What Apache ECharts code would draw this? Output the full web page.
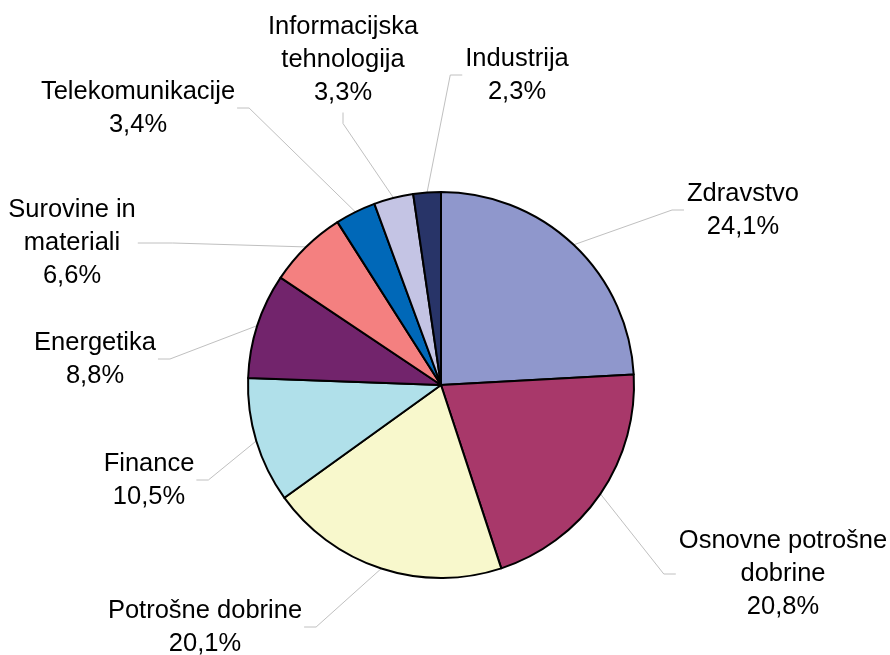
<!DOCTYPE html>
<html>
<head>
<meta charset="utf-8">
<script src="https://cdn.jsdelivr.net/npm/echarts@6/dist/echarts.min.js"></script>
<style>
html,body{margin:0;padding:0;background:#fff;}
#main{width:890px;height:655px;}
</style>
</head>
<body>
<div id="main"></div>
<script>
var categories = ['Zdravstvo', 'Osnovne potrošne\ndobrine', 'Potrošne dobrine', 'Finance', 'Energetika', 'Surovine in\nmateriali', 'Telekomunikacije', 'Informacijska\ntehnologija', 'Industrija'];
var shares = [24.1, 20.8, 20.1, 10.5, 8.8, 6.6, 3.4, 3.3, 2.3];
var colors = ['#8f97cc', '#a8386a', '#f8f8cc', '#b0e0ea', '#72246c', '#f48080', '#0068b8', '#c4c4e4', '#283468'];

// label placement (layout, not data)
var labelPos = [
  {x: 743, y: 210, side: 'left'},
  {x: 783, y: 574, side: 'left'},
  {x: 205, y: 627, side: 'right'},
  {x: 149, y: 480, side: 'right'},
  {x: 95, y: 359, side: 'right'},
  {x: 72, y: 243, side: 'right', len: 35},
  {x: 138, y: 108, side: 'right'},
  {x: 343, y: 60, side: 'bottom'},
  {x: 517, y: 75, side: 'left'}
];

var CX = 441, CY = 385, R = 193;
var total = shares.reduce(function (a, b) { return a + b; }, 0);

function anchorFor(i) {
  var before = 0;
  for (var k = 0; k < i; k++) before += shares[k];
  var mid = (before + shares[i] / 2) / total * Math.PI * 2;
  return [CX + R * Math.sin(mid), CY - R * Math.cos(mid)];
}

var chart = echarts.init(document.getElementById('main'));
chart.setOption({
  backgroundColor: '#ffffff',
  animation: false,
  series: [{
    type: 'pie',
    center: [CX, CY],
    radius: R,
    startAngle: 90,
    clockwise: true,
    avoidLabelOverlap: false,
    data: categories.map(function (c, i) {
      return { name: c, value: shares[i], itemStyle: { color: colors[i] } };
    }),
    itemStyle: { borderColor: '#000000', borderWidth: 2 },
    emphasis: { disabled: true },
    label: {
      show: true,
      position: 'outside',
      color: '#000000',
      fontFamily: '"Liberation Sans", Arial, sans-serif',
      fontSize: 25.5,
      lineHeight: 33,
      align: 'center',
      formatter: function (p) {
        return p.name + '\n' + p.value.toFixed(1).replace('.', ',') + '%';
      }
    },
    labelLine: {
      show: true,
      length: 20,
      length2: 12,
      lineStyle: { color: '#c0c0c0', width: 1 }
    },
    labelLayout: function (p) {
      var L = labelPos[p.dataIndex];
      var w = p.labelRect.width, h = p.labelRect.height;
      var a = anchorFor(p.dataIndex);
      var len = L.len || 12;
      var end, bend;
      if (L.side === 'left') {
        end = [L.x - w / 2 - 3, L.y];
        bend = [end[0] - len, end[1]];
      } else if (L.side === 'right') {
        end = [L.x + w / 2 + 2, L.y];
        bend = [end[0] + len, end[1]];
      } else {
        end = [L.x, L.y + h / 2 + 3];
        bend = [end[0], end[1] + 11];
      }
      return {
        x: L.x,
        y: L.y,
        align: 'center',
        verticalAlign: 'middle',
        labelLinePoints: [a, bend, end]
      };
    }
  }]
});
</script>
</body>
</html>
